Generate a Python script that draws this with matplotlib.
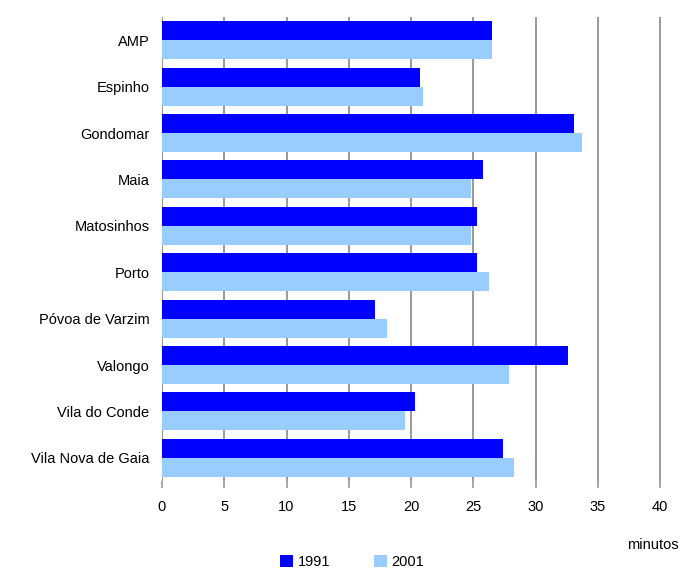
import matplotlib.pyplot as plt
import numpy as np

plt.rcParams["font.family"] = ["Liberation Sans", "DejaVu Sans"]

concelhos = ["AMP", "Espinho", "Gondomar", "Maia", "Matosinhos", "Porto",
             "Póvoa de Varzim", "Valongo", "Vila do Conde", "Vila Nova de Gaia"]
tempo_1991 = [26.5, 20.7, 33.1, 25.8, 25.3, 25.3, 17.1, 32.6, 20.35, 27.4]
tempo_2001 = [26.5, 21.0, 33.7, 24.85, 24.85, 26.3, 18.1, 27.9, 19.55, 28.25]
anos = ["1991", "2001"]
ticks = [0, 5, 10, 15, 20, 25, 30, 35, 40]

cor_1991 = "#0000FF"
cor_2001 = "#99CCFF"
cinza = "#999999"
fs = 10.5

fig = plt.figure(figsize=(6.8, 5.69), dpi=100)
ax = fig.add_axes([162 / 680, 1 - 481 / 569, 1 - 162 / 680, (481 - 17) / 569])

y = np.arange(len(concelhos))
h = 0.41
ax.barh(y - h / 2, tempo_1991, height=h, color=cor_1991, label=anos[0], zorder=3)
ax.barh(y + h / 2, tempo_2001, height=h, color=cor_2001, label=anos[1], zorder=3)

ax.set_ylim(len(concelhos) - 0.5, -0.5)
ax.set_xlim(0, 40 * 518 / 498)
ax.set_xticks(ticks)
ax.set_xticklabels([str(t) for t in ticks], fontsize=fs)
ax.set_yticks(y)
ax.set_yticklabels(concelhos, fontsize=fs)

# linhas verticais de referência (a de 0 fica coberta pelo eixo)
for t in ticks[1:]:
    ax.axvline(t, color=cinza, linewidth=1.4, zorder=1)

for s in ["top", "right", "bottom"]:
    ax.spines[s].set_visible(False)
ax.spines["left"].set_color(cinza)
ax.spines["left"].set_linewidth(0.8)
ax.tick_params(axis="x", direction="out", length=5, width=1.2, color=cinza, pad=9)
ax.tick_params(axis="y", length=0, pad=9)

fig.text(679 / 680, 1 - 545 / 569, "minutos", ha="right", va="center", fontsize=fs)

fig.legend(loc="center", bbox_to_anchor=(352 / 680, 1 - 562 / 569), ncol=2,
           frameon=False, fontsize=fs, handlelength=0.9, handleheight=0.9,
           handletextpad=0.3, columnspacing=3.0, borderpad=0)

fig.savefig("out.png", dpi=100)
